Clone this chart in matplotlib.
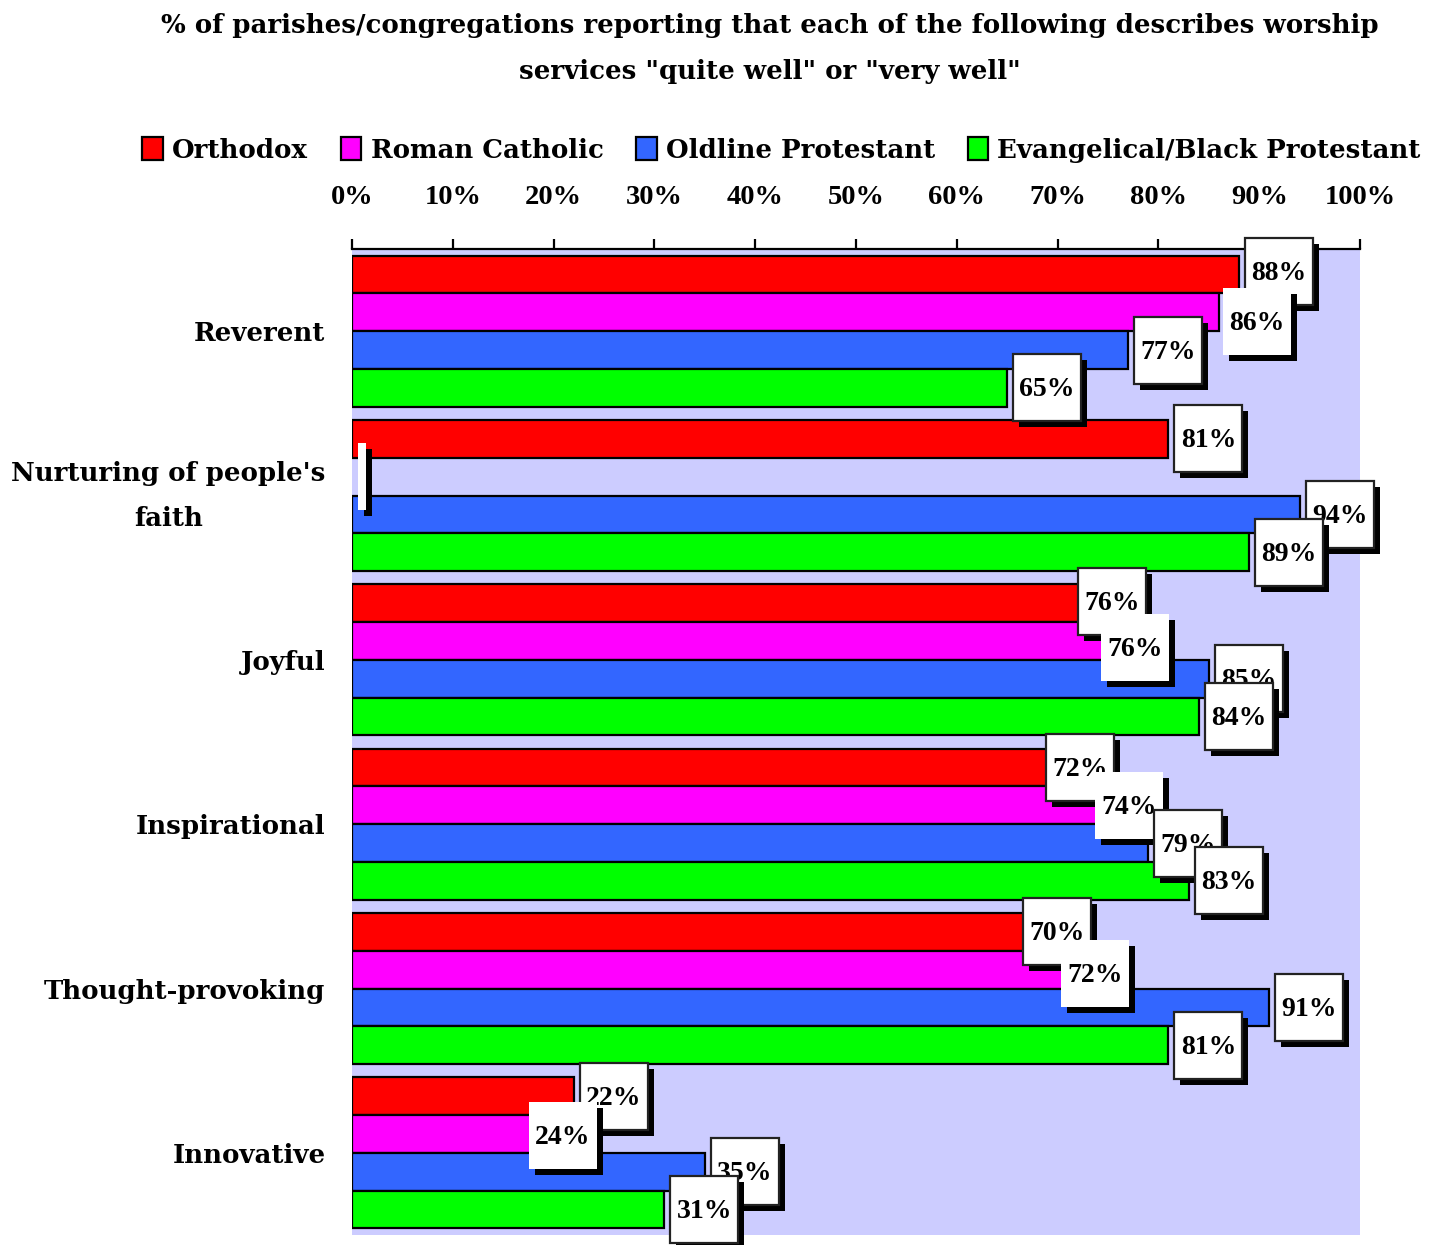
import matplotlib.pyplot as plt
from matplotlib.patches import Rectangle

plt.rcParams['font.family'] = ['DejaVu Serif']
plt.rcParams['font.weight'] = 'bold'
NUM_FONT = ['Liberation Serif', 'DejaVu Serif']

categories = ['Reverent', "Nurturing of people's\nfaith", 'Joyful',
              'Inspirational', 'Thought-provoking', 'Innovative']
series = ['Orthodox', 'Roman Catholic', 'Oldline Protestant',
          'Evangelical/Black Protestant']
orthodox = [88, 81, 76, 72, 70, 22]
roman_catholic = [86, None, 76, 74, 72, 24]
oldline = [77, 94, 85, 79, 91, 35]
evangelical = [65, 89, 84, 83, 81, 31]
ticks = [0, 10, 20, 30, 40, 50, 60, 70, 80, 90, 100]

values = [orthodox, roman_catholic, oldline, evangelical]
colors = ['#ff0000', '#ff00ff', '#3366ff', '#00ff00']
# label boxes that were dragged off the bar end (pixels)
nudge_x = [[0, 0, -46, -38, -41, 0],
           [-2, 0, -23, -9, -23, -71],
           [0, 0, 0, 0, 0, 0],
           [0, 0, 0, 0, 0, 0]]
nudge_y = [[-3, 0, -2, 0, 0, 0],
           [9, 0, 7, 0, 4, 2],
           [0, 0, 0, 0, 0, 0],
           [0, 0, 0, 0, 0, 0]]
bordered = [True, False, True, True]

W, H = 1442, 1245
fig = plt.figure(figsize=(W / 100, H / 100), dpi=100)
ax = fig.add_axes([352 / W, 1 - 1235 / H, 1008 / W, 986 / H])
ax.set_facecolor('#ccccff')
ax.set_xlim(0, 100)
ax.set_ylim(len(categories) - 0.5, -0.5)

px = 100 / 1008.0          # data units per pixel, x
py = len(categories) / 986.0  # data units per pixel, y

bh = 0.23
for j, vals in enumerate(values):
    for i, v in enumerate(vals):
        yc = i - 1.5 * bh + j * bh
        if v is not None:
            ax.barh(yc, v, height=bh, color=colors[j], edgecolor='black',
                    linewidth=1.6, zorder=2)
        end = v if v is not None else 0
        txt = f'{v}%' if v is not None else ''
        bw = 68 * px if v is not None else 8 * px
        bhgt = 67 * py
        left = end + 6 * px + nudge_x[j][i] * px
        top = yc - bhgt / 2 + nudge_y[j][i] * py
        z = 10 + j * 3
        ax.add_patch(Rectangle((left + 6 * px, top + 6 * py), bw, bhgt,
                               facecolor='black', edgecolor='none',
                               zorder=z, clip_on=False))
        ax.add_patch(Rectangle((left, top), bw, bhgt, facecolor='white',
                               edgecolor='#222222' if bordered[j] else 'none',
                               linewidth=1.6, zorder=z + 1, clip_on=False))
        if txt:
            ax.text(left + bw / 2, top + bhgt / 2 + 2 * py, txt, ha='center',
                    va='center', fontsize=20, fontweight='bold',
                    family=NUM_FONT, zorder=z + 2, clip_on=False)

ax.xaxis.tick_top()
ax.set_xticks(ticks)
ax.set_xticklabels([f'{t}%' for t in ticks], fontsize=20.5, fontweight='bold',
                   family=NUM_FONT)
ax.tick_params(axis='x', direction='out', length=7, width=1.6, pad=21)
ax.set_yticks(range(len(categories)))
ylabels = ax.set_yticklabels(categories, fontsize=18.7, fontweight='bold',
                             multialignment='center', linespacing=2.0)
for lab in ylabels:
    if '\n' in lab.get_text():
        lab.set_verticalalignment('center')
ax.tick_params(axis='y', length=0, pad=19)
for s in ['bottom', 'left', 'right']:
    ax.spines[s].set_visible(False)
ax.spines['top'].set_linewidth(1.6)

handles = [Rectangle((0, 0), 1, 1, facecolor=c, edgecolor='black',
                     linewidth=1.6) for c in colors]
fig.legend(handles, series, loc='center', bbox_to_anchor=(0.542, 1 - 150 / H),
           ncol=4, frameon=False, prop={'size': 18.7, 'weight': 'bold'},
           handlelength=0.8, handleheight=0.95, handletextpad=0.35,
           columnspacing=1.25)

fig.text(0.534, 1 - 48 / H,
         '% of parishes/congregations reporting that each of the following describes worship\n'
         'services "quite well" or "very well"',
         ha='center', va='center', fontsize=18.7, fontweight='bold',
         linespacing=2.05)

fig.savefig('out.png', dpi=100)
